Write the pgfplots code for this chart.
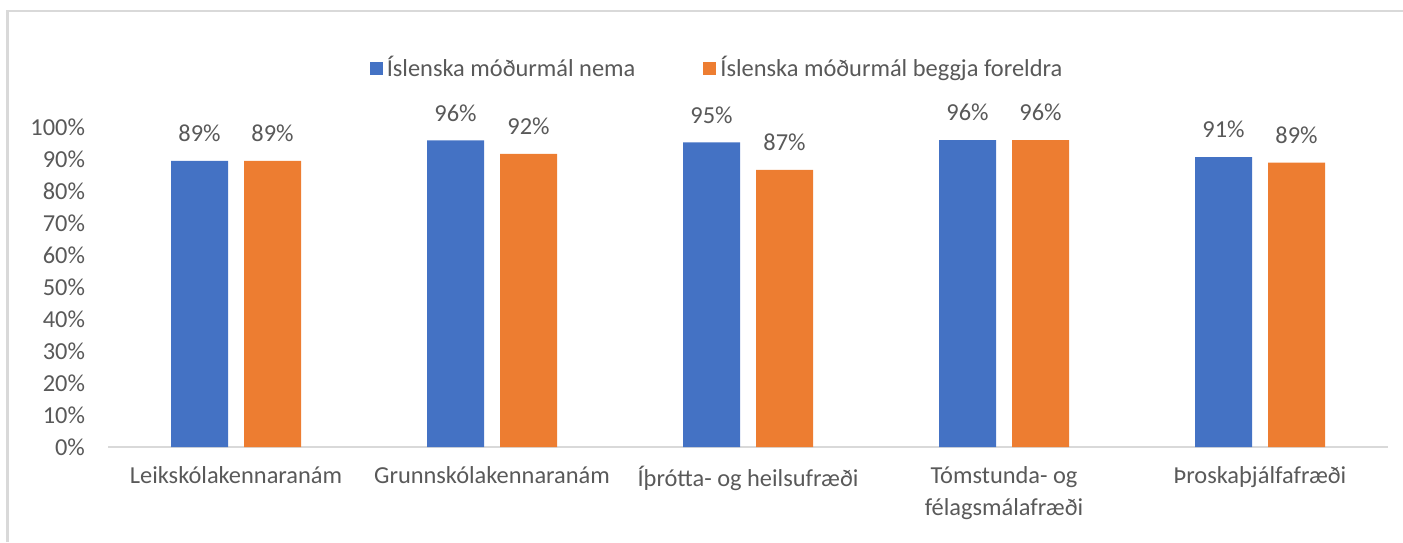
\documentclass[border=0pt]{standalone}
\usepackage{pgfplots}
\pgfplotsset{compat=1.18}
\usepackage{fontspec}
\setmainfont{Carlito}
\definecolor{cblue}{HTML}{4472C4}
\definecolor{corange}{HTML}{ED7D31}
\definecolor{ctext}{HTML}{595959}
\definecolor{cframe}{HTML}{D9D9D9}
\begin{document}
\begin{tikzpicture}
\path[use as bounding box] (0,0) rectangle (701.5pt,271pt);
\draw[cframe, line width=1.2pt] (3.75pt,0) -- (3.75pt,265.5pt) -- (701.5pt,265.5pt);
\begin{axis}[
  at={(54pt,47.5pt)}, anchor=south west,
  scale only axis, width=640pt, height=160pt,
  ybar=8pt, bar width=28.5pt,
  xmin=-0.5, xmax=4.5, ymin=0, ymax=100,
  clip=false,
  axis x line*=bottom, axis y line*=left,
  x axis line style={cframe, line width=1pt, -},
  y axis line style={draw=none},
  xtick=data,
  xticklabels={Leikskólakennaranám, Grunnskólakennaranám, Íþrótta- og heilsufræði, {Tómstunda- og\\félagsmálafræði}, Þroskaþjálfafræði},
  x tick label style={align=center, text=ctext, yshift=-6pt},
  major tick length=0pt,
  ytick={0,10,...,100},
  yticklabel={\pgfmathprintnumber{\tick}\%},
  /pgf/number format/assume math mode=true,
  y tick label style={text=ctext, xshift=-8pt},
  font=\fontsize{12.2}{16}\selectfont,
  nodes near coords={\pgfmathprintnumber[fixed,precision=0]{\pgfplotspointmeta}\%},
  nodes near coords style={text=ctext, yshift=6pt},
  legend columns=2,
  legend style={at={(0.4766,1.184)}, anchor=center, draw=none, text=ctext,
    /tikz/every even column/.append style={column sep=32pt}},
  legend image code/.code={\fill[#1,draw=none] (0pt,-3.25pt) rectangle (6.5pt,3.25pt);},
]
\addplot[fill=cblue, draw=none] coordinates {(0,89.4) (1,95.8) (2,95.2) (3,95.9) (4,90.6)};
\addplot[fill=corange, draw=none] coordinates {(0,89.4) (1,91.6) (2,86.6) (3,95.9) (4,88.9)};
\legend{Íslenska móðurmál nema, Íslenska móðurmál beggja foreldra}
\end{axis}
\end{tikzpicture}
\end{document}
